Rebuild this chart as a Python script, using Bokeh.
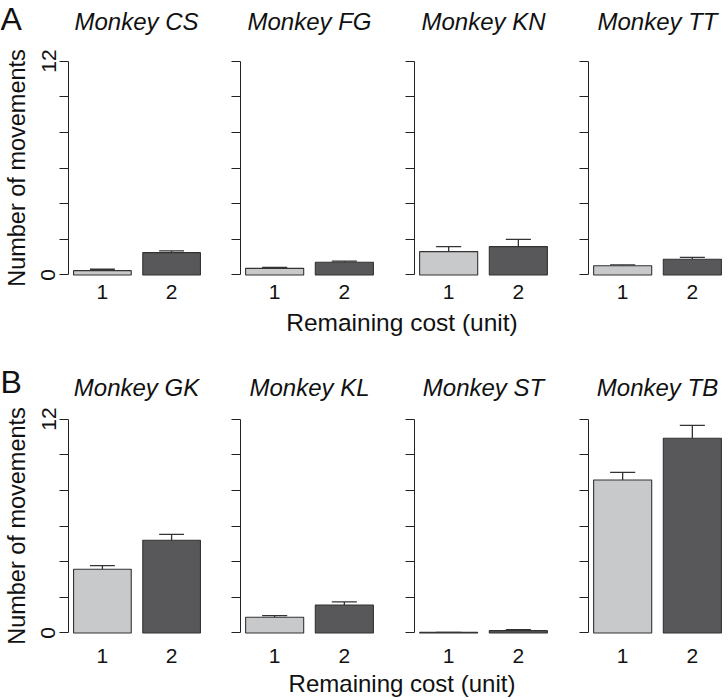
from bokeh.plotting import figure
from bokeh.layouts import column, row
from bokeh.models import FixedTicker, ColumnDataSource, Range1d
from bokeh.core.properties import value
from bokeh.embed import file_html
from bokeh.resources import INLINE

# ---------------- data ----------------
cost_levels = [1, 2]                      # remaining cost (unit)
monkeys_A = ["Monkey CS", "Monkey FG", "Monkey KN", "Monkey TT"]
mean1_A = [0.24, 0.37, 1.31, 0.52]
err1_A = [0.08, 0.06, 0.28, 0.04]
mean2_A = [1.25, 0.71, 1.59, 0.88]
err2_A = [0.10, 0.06, 0.41, 0.11]

monkeys_B = ["Monkey GK", "Monkey KL", "Monkey ST", "Monkey TB"]
mean1_B = [3.57, 0.88, 0.03, 8.58]
err1_B = [0.21, 0.09, 0.00, 0.43]
mean2_B = [5.20, 1.57, 0.13, 10.92]
err2_B = [0.33, 0.17, 0.06, 0.73]

y_major = [0, 12]
y_minor = [2, 4, 6, 8, 10]
x_title = "Remaining cost (unit)"
y_title = "Number of movements"

# ---------------- layout / style ----------------
FONT = "Liberation Sans"
LIGHT = "#c8c9cb"
DARK = "#58585a"
EDGE = "#333333"
AXIS = "#222222"
TXT = "#111111"
BAR_W = 1 / 1.2
CAP = 0.18
FRAME_W = 138
FRAME_H = 231
TOTAL_W = 726
PANEL_W = [205, 173, 174, 174]
PANEL_L = [67, 35, 36, 36]
AXIS_X = []
_acc = 0
for w, l in zip(PANEL_W, PANEL_L):
    AXIS_X.append(_acc + l)
    _acc += w
TITLE_X = [a + FRAME_W / 2 for a in AXIS_X]


def panel(i, means, errs, bottom_border, label_standoff):
    first = i == 0
    p = figure(width=PANEL_W[i], height=8 + FRAME_H + bottom_border,
               x_range=(0.51, 2.49), y_range=(-0.48, 12.48),
               output_backend="svg", toolbar_location=None,
               min_border_left=PANEL_L[i], min_border_right=0,
               min_border_top=8, min_border_bottom=bottom_border)
    p.outline_line_color = None
    p.grid.visible = False
    p.background_fill_color = "white"
    p.border_fill_color = "white"

    tops = [m + e for m, e in zip(means, errs)]
    src = ColumnDataSource(dict(x=cost_levels, top=means, etop=tops,
                                x0=[c - CAP for c in cost_levels],
                                x1=[c + CAP for c in cost_levels],
                                color=[LIGHT, DARK]))
    p.segment(x0="x", y0="top", x1="x", y1="etop", source=src,
              line_color=EDGE, line_width=1.3)
    p.segment(x0="x0", y0="etop", x1="x1", y1="etop", source=src,
              line_color=EDGE, line_width=1.3)
    p.vbar(x="x", top="top", bottom=0, width=BAR_W, source=src,
           fill_color="color", line_color=EDGE, line_width=1.1)

    xa = p.xaxis[0]
    xa.ticker = FixedTicker(ticks=cost_levels)
    xa.axis_line_color = None
    xa.major_tick_line_color = None
    xa.minor_tick_line_color = None
    xa.major_label_standoff = label_standoff
    xa.major_label_text_font = FONT
    xa.major_label_text_font_size = "21px"
    xa.major_label_text_color = TXT

    ya = p.yaxis[0]
    ya.bounds = (0, 12)
    ya.axis_line_color = AXIS
    ya.major_tick_line_color = AXIS
    ya.minor_tick_line_color = AXIS
    ya.major_tick_out = 9
    ya.major_tick_in = 0
    ya.minor_tick_out = 9
    ya.minor_tick_in = 0
    if first:
        ya.ticker = FixedTicker(ticks=y_major, minor_ticks=y_minor)
        ya.major_label_orientation = "vertical"
        ya.major_label_text_font = FONT
        ya.major_label_text_font_size = "21px"
        ya.major_label_text_color = TXT
        ya.major_label_standoff = 4
        ya.axis_label = y_title
        ya.axis_label_text_font = FONT
        ya.axis_label_text_font_size = "23.5px"
        ya.axis_label_text_font_style = "normal"
        ya.axis_label_text_color = TXT
        ya.axis_label_standoff = 9
    else:
        ya.ticker = FixedTicker(ticks=[], minor_ticks=y_major[:1] + y_minor + y_major[1:])
    return p


def strip(height):
    s = figure(width=TOTAL_W, height=height,
               x_range=Range1d(0, TOTAL_W), y_range=Range1d(height, 0),
               output_backend="svg", toolbar_location=None,
               x_axis_location=None, y_axis_location=None, min_border=0)
    s.outline_line_color = None
    s.grid.visible = False
    return s


def add_titles(s, names, baseline):
    s.text(x=TITLE_X, y=[baseline] * len(names), text=names,
           text_font=value(FONT), text_font_style="italic", text_font_size="24px",
           text_align="center", text_baseline="alphabetic", text_color=TXT)


def add_letter(s, letter, baseline):
    s.text(x=[0], y=[baseline], text=[letter], text_font=value(FONT),
           text_font_size="32px", text_align="left", text_baseline="alphabetic",
           text_color=TXT)


def add_xtitle(s, baseline, size="24.5px"):
    cx = (AXIS_X[0] + AXIS_X[-1] + FRAME_W) / 2 + 5
    s.text(x=[cx], y=[baseline], text=[x_title], text_font=value(FONT),
           text_font_size=size, text_align="center", text_baseline="alphabetic",
           text_color=TXT)


# header A
head_a = strip(44)
add_letter(head_a, "A", 18)
add_titles(head_a, monkeys_A, 21.3)

row_a = row([panel(i, [mean1_A[i], mean2_A[i]], [err1_A[i], err2_A[i]], 24, -5)
             for i in range(4)])

# middle strip: x title of row A + header B
mid = strip(95)
add_xtitle(mid, 15)
add_letter(mid, "B", 74.3)
add_titles(mid, monkeys_B, 80.3)

row_b = row([panel(i, [mean1_B[i], mean2_B[i]], [err1_B[i], err2_B[i]], 27, 1)
             for i in range(4)])

foot = strip(31)
add_xtitle(foot, 15, "24px")

layout = column([head_a, row_a, mid, row_b, foot])

open("out.html", "w").write(file_html(layout, INLINE))
